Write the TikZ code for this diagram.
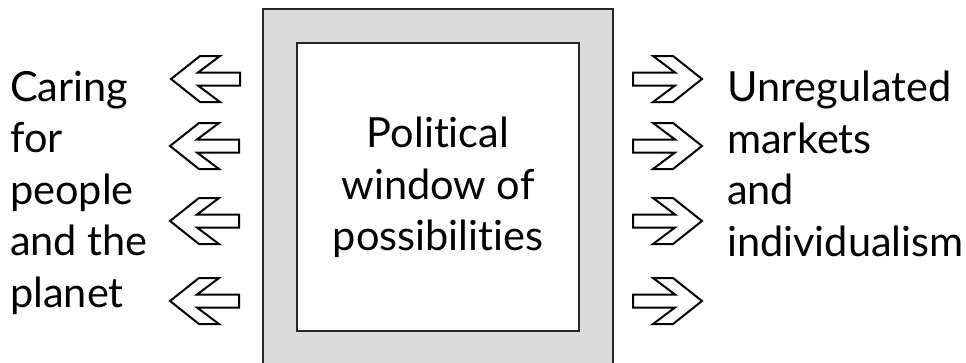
\documentclass[tikz,border=0pt]{standalone}
\usepackage{fontspec}
\setmainfont{Lato}[Ligatures={NoCommon,NoRare,NoContextual}]
\begin{document}
\begin{tikzpicture}[x=1pt,y=-1pt,
  frameline/.style={draw=black!85,line width=2.5pt},
  arrowline/.style={draw=black,line width=2pt,line join=miter,fill=white},
  labeltext/.style={inner sep=0pt,font=\fontsize{41.5}{51.5}\selectfont},
  rarrow/.pic={\path[arrowline] (0,0) -- (-29,-23) -- (-49,-23) -- (-27,-6.5) -- (-69,-6.5) -- (-69,6.5) -- (-27,6.5) -- (-49,23) -- (-29,23) -- cycle;},
  larrow/.pic={\path[arrowline] (0,0) -- (29,-23) -- (49,-23) -- (27,-6.5) -- (69,-6.5) -- (69,6.5) -- (27,6.5) -- (49,23) -- (29,23) -- cycle;}
]
\useasboundingbox (0,0) rectangle (966,362);
% frame
\path[frameline,fill=black!14] (263,9) rectangle (613,372);
\node[frameline,fill=white,minimum width=282pt,minimum height=288pt,inner sep=0pt] (inner) at (438,187) {};
\node[labeltext,align=center,anchor=north] (centre) at (438,117) {Political\\window of\\possibilities};
% left side
\node[labeltext,align=left,anchor=north west] (lefttext) at (10,71) {Caring\\for\\people\\and the\\planet};
\pic (la1) at (171,79) {larrow};
\pic (la2) at (170,146) {larrow};
\pic (la3) at (170,221) {larrow};
\pic (la4) at (170,301) {larrow};
% right side
\node[labeltext,align=left,anchor=north west] (righttext) at (727,71) {Unregulated\\markets\\and\\individualism};
\pic (ra1) at (702,79) {rarrow};
\pic (ra2) at (702,146) {rarrow};
\pic (ra3) at (702,221) {rarrow};
\pic (ra4) at (702,301) {rarrow};
\end{tikzpicture}
\end{document}
